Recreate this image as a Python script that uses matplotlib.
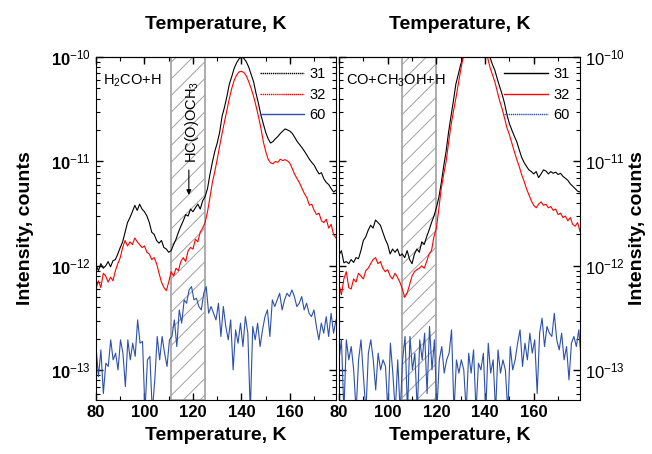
import matplotlib
matplotlib.use('Agg')
import matplotlib.pyplot as plt
import numpy as np
from matplotlib.lines import Line2D
from matplotlib.ticker import MultipleLocator, LogLocator, NullFormatter

plt.rcParams['font.family'] = ['Liberation Sans', 'DejaVu Sans']
plt.rcParams['mathtext.fontset'] = 'custom'
plt.rcParams['mathtext.rm'] = 'Liberation Sans'
plt.rcParams['mathtext.it'] = 'Liberation Sans'
plt.rcParams['mathtext.bf'] = 'Liberation Sans:bold'
plt.rcParams['hatch.linewidth'] = 0.7
plt.rcParams['hatch.color'] = '#a0a0a0'

##############################################################################
## Data (intensities)

# 1 K grid for masses 31 and 32
T = np.arange(80, 180)

# H2CO+H, units of 1e-12
h2co_31 = [1.02, 0.9, 1.05, 0.95, 1.0, 1.1, 0.98, 1.12, 1.15, 1.3,
           1.5, 1.7, 2.1, 2.6, 2.9, 3.3, 3.8, 3.4, 3.9, 3.5,
           3.3, 3.0, 2.6, 2.1, 2.0, 1.75, 1.65, 1.75, 1.5, 1.45,
           1.35, 1.4, 1.6, 1.8, 2.1, 2.4, 2.7, 3.1, 3.0, 3.5,
           3.3, 3.6, 3.9, 3.5, 4.2, 4.6, 5.5, 7.5, 9.8, 12.5,
           15, 19, 27, 33, 42, 55, 65, 78, 88, 96,
           100, 97, 90, 80, 68, 58, 45, 36, 28, 23,
           19, 16.5, 15, 15.5, 16.5, 17.3, 18.5, 19.5, 20.5, 20,
           19.5, 18.5, 17, 15.5, 14.5, 13.5, 12.5, 11.5, 10.5, 9.8,
           9.2, 8.3, 7.6, 7.8, 6.8, 6.3, 6.0, 5.5, 5.1, 5.3]
h2co_32 = [0.6, 0.72, 0.62, 0.85, 0.8, 0.7, 0.78, 0.72, 0.9, 1.05,
           1.2, 1.5, 1.75, 1.55, 1.7, 1.6, 1.85, 1.7, 1.6, 1.5,
           1.55, 1.35, 1.3, 1.15, 1.2, 1.05, 0.85, 0.7, 0.62, 0.58,
           0.7, 0.88, 0.8, 0.95, 0.9, 1.1, 1.2, 1.1, 1.4, 1.5,
           1.45, 1.8, 1.7, 2.1, 2.3, 2.6, 3.3, 4.5, 6.3, 8.0,
           10.5, 14, 18.5, 24, 31, 40, 50, 60, 67, 72,
           73, 71, 66, 58, 50, 42, 34, 27, 21, 15.5,
           12.5, 10.5, 9.7, 9.5, 10, 9.8, 10.5, 10.2, 10.4, 10.1,
           9.6, 8.5, 7.5, 6.8, 6.2, 5.5, 4.9, 4.5, 3.8, 3.9,
           3.4, 3.1, 3.2, 2.7, 2.6, 2.8, 2.3, 2.5, 2.0, 1.85]

# CO+CH3OH+H, units of 1e-12
coch_31 = [1.27, 1.4, 1.07, 1.1, 1.05, 1.15, 1.08, 1.2, 1.17, 1.4,
           1.75, 1.9, 2.2, 2.45, 2.3, 2.75, 2.6, 2.45, 2.1, 1.8,
           1.6, 1.3, 1.45, 1.35, 1.45, 1.25, 1.3, 1.2, 1.4, 1.15,
           1.05, 1.3, 1.45, 1.35, 1.7, 1.6, 1.9, 2.2, 2.6, 3.0,
           3.6, 4.5, 6.2, 9, 12.5, 19, 27, 38, 55, 68,
           85, 100, 125, 150, 175, 195, 210, 215, 210, 190,
           165, 135, 100, 85, 75, 62, 52, 44, 36, 28,
           23, 20, 17.5, 15.5, 13, 11, 9.8, 9.0, 8.3, 8.0,
           7.6, 8.0, 7.0, 7.6, 8.3, 8.1, 7.6, 8.0, 7.7, 7.9,
           7.5, 7.7, 7.2, 6.9, 6.6, 6.1, 5.8, 5.5, 5.2, 5.1]
coch_32 = [0.66, 0.53, 0.75, 0.88, 0.62, 0.6, 0.75, 0.7, 0.85, 0.8,
           0.75, 0.9, 0.95, 1.05, 1.15, 1.2, 1.05, 1.1, 0.95, 0.88,
           0.92, 0.8, 0.75, 0.85, 0.78, 0.7, 0.6, 0.5, 0.55, 0.66,
           0.8, 0.88, 0.92, 0.95, 1.0, 0.95, 1.1, 1.3, 1.4, 1.9,
           2.3, 3.5, 5.5, 7.5, 10, 15, 22, 30, 40, 55,
           75, 100, 125, 150, 170, 180, 185, 180, 165, 140,
           115, 100, 80, 68, 58, 47, 38, 32, 26, 21,
           18, 15, 12.5, 10.5, 9, 7.5, 6.5, 5.5, 4.8, 4.2,
           3.8, 3.6, 3.9, 4.1, 3.8, 3.9, 3.6, 3.7, 3.4, 3.5,
           3.1, 3.2, 2.9, 3.0, 2.7, 2.9, 2.5, 2.4, 2.6, 2.14]

# mass 60, units of 1e-13 (values below 0.5 fall under the axis)
h2co_60 = [1.69, 0.87, 1.57, 0.60, 1.17, 1.09, 1.96, 1.26, 1.46, 1.01,
           1.96, 1.46, 0.70, 1.96, 1.26, 1.82, 1.36, 3.04, 1.82, 1.89,
           0.40, 1.26, 1.36, 0.40, 0.81, 2.11, 1.26, 2.11, 1.46, 1.09,
           1.96, 2.11, 3.04, 1.69, 3.79, 2.83, 4.73, 4.39, 5.89, 6.34,
           4.73, 4.90, 4.08, 3.79, 5.47, 6.34, 3.52, 4.08, 3.52, 3.04,
           4.39, 2.11, 4.08, 2.63, 1.96, 3.04, 1.01, 2.44, 1.82, 2.83,
           1.69, 3.27, 2.27, 0.40, 2.63, 1.96, 2.83, 1.69, 2.44, 3.27,
           3.79, 2.11, 4.73, 4.08, 4.73, 5.47, 3.79, 4.73, 5.47, 5.09,
           5.89, 5.09, 4.08, 4.39, 5.09, 3.79, 4.39, 3.52, 3.27, 3.79,
           2.63, 1.96, 2.83, 2.27, 3.27, 2.11, 3.52, 2.27, 3.04]
coch_60 = [1.26, 1.96, 0.40, 1.96, 1.26, 1.69, 1.01, 0.40, 1.26, 1.96,
           0.87, 0.40, 1.46, 1.96, 1.26, 0.65, 1.46, 1.01, 1.26, 1.09,
           0.40, 1.82, 0.94, 0.40, 1.26, 0.40, 1.26, 2.11, 0.40, 2.11,
           1.01, 1.46, 0.40, 1.96, 1.26, 2.27, 0.60, 2.63, 1.01, 1.96,
           0.40, 1.26, 1.69, 0.94, 1.26, 1.46, 2.44, 0.40, 1.26, 0.94,
           1.26, 1.01, 0.40, 1.46, 0.94, 1.57, 0.40, 1.17, 1.01, 1.46,
           0.40, 1.82, 0.94, 1.26, 0.40, 1.57, 0.94, 1.26, 1.01, 0.40,
           1.69, 1.01, 1.26, 1.82, 2.44, 1.09, 1.82, 1.26, 2.27, 1.46,
           1.96, 0.60, 2.27, 3.16, 1.69, 2.63, 2.27, 2.11, 3.52, 1.96,
           1.57, 2.27, 1.26, 1.69, 0.81, 1.82, 2.11, 1.69, 2.44, 1.26]
T60_a = np.linspace(80, 179, len(h2co_60))
T60_b = np.linspace(80, 179.5, len(coch_60))

# shaded regions (K)
band_a = (111, 125)
band_b = (106, 120)

masses = ['31', '32', '60']

##############################################################################
## Plotting

blue = '#2d50ac'
colors = ['k', 'red', blue]
fig = plt.figure(figsize=(6.52, 4.54), dpi=100)
ax1 = fig.add_axes([96/652, 54/454, 240/652, 343/454])
ax2 = fig.add_axes([339/652, 54/454, 241/652, 343/454])

ax1.axvspan(*band_a, facecolor='none', hatch='//', edgecolor='#a0a0a0', lw=1.2, zorder=1)
ax2.axvspan(*band_b, facecolor='none', hatch='//', edgecolor='#a0a0a0', lw=1.2, zorder=1)

ax1.plot(T, np.array(h2co_31)*1e-12, color='k', lw=0.8)
ax1.plot(T, np.array(h2co_32)*1e-12, color='red', lw=0.8)
ax1.plot(T60_a, np.array(h2co_60)*1e-13, color=blue, lw=0.8)

ax2.plot(T, np.array(coch_31)*1e-12, color='k', lw=0.8)
ax2.plot(T, np.array(coch_32)*1e-12, color='red', lw=0.8)
ax2.plot(T60_b, np.array(coch_60)*1e-13, color=blue, lw=0.8)

# legend line styles as in the original figure
styles_a = [(0, (1, 0.5)), (0, (1, 0.5)), '-']
styles_b = ['-', '-', (0, (1, 0.5))]

ylabels = [r'10$^{-13}$', r'10$^{-12}$', r'10$^{-11}$', r'10$^{-10}$']
for ax, styles in ((ax1, styles_a), (ax2, styles_b)):
    ax.set_yscale('log')
    ax.set_xlim(80, 179)
    ax.set_ylim(5.2e-14, 1e-10)
    ax.xaxis.set_minor_locator(MultipleLocator(10))
    ax.set_xticks([80, 100, 120, 140, 160])
    ax.set_yticks([1e-13, 1e-12, 1e-11, 1e-10])
    ax.set_yticklabels(ylabels)
    ax.yaxis.set_minor_locator(LogLocator(base=10, subs=np.arange(2, 10)))
    ax.yaxis.set_minor_formatter(NullFormatter())
    ax.tick_params(which='both', direction='in', top=True, right=True, left=True)
    ax.tick_params(which='major', length=5, width=1)
    ax.tick_params(which='minor', length=3, width=0.8)
    for lab in ax.get_xticklabels() + ax.get_yticklabels():
        lab.set_fontweight('bold')
        lab.set_fontsize(12)
    ax.set_xlabel('Temperature, K', fontsize=14, fontweight='bold', labelpad=5)
    top = ax.secondary_xaxis('top')
    top.set_xticks([80, 100, 120, 140, 160])
    top.xaxis.set_minor_locator(MultipleLocator(10))
    top.tick_params(which='both', direction='in', labeltop=False)
    top.set_xlabel('Temperature, K', fontsize=14, fontweight='bold', labelpad=20)
    handles = [Line2D([], [], color=c, ls=s, lw=1.0) for c, s in zip(colors, styles)]
    ax.legend(handles, masses, loc='upper right', frameon=False, fontsize=10.5,
              handlelength=3.0, handletextpad=0.4, labelspacing=0.45, borderaxespad=0.3)

ax1.set_ylabel('Intensity, counts', fontsize=14, fontweight='bold', labelpad=12)
ax2.tick_params(which='both', labelleft=False, labelright=True)
ax2.tick_params(axis='y', labelsize=12)
ax2.yaxis.set_label_position('right')
ax2.set_ylabel('Intensity, counts', fontsize=14, fontweight='bold', labelpad=3)

ax1.text(0.03, 0.955, r'H$_2$CO+H', transform=ax1.transAxes, fontsize=10.5, va='top')
ax2.text(0.03, 0.955, r'CO+CH$_3$OH+H', transform=ax2.transAxes, fontsize=10.5, va='top')

ax1.text(119.8, 9.6e-12, r'HC(O)OCH$_3$', rotation=90, fontsize=10.5, ha='center', va='bottom')
ax1.annotate('', xy=(118.3, 4.5e-12), xytext=(118.3, 8.8e-12),
             arrowprops=dict(arrowstyle='-|>', color='k', lw=0.8, mutation_scale=7))

fig.savefig('out.png', dpi=100)
